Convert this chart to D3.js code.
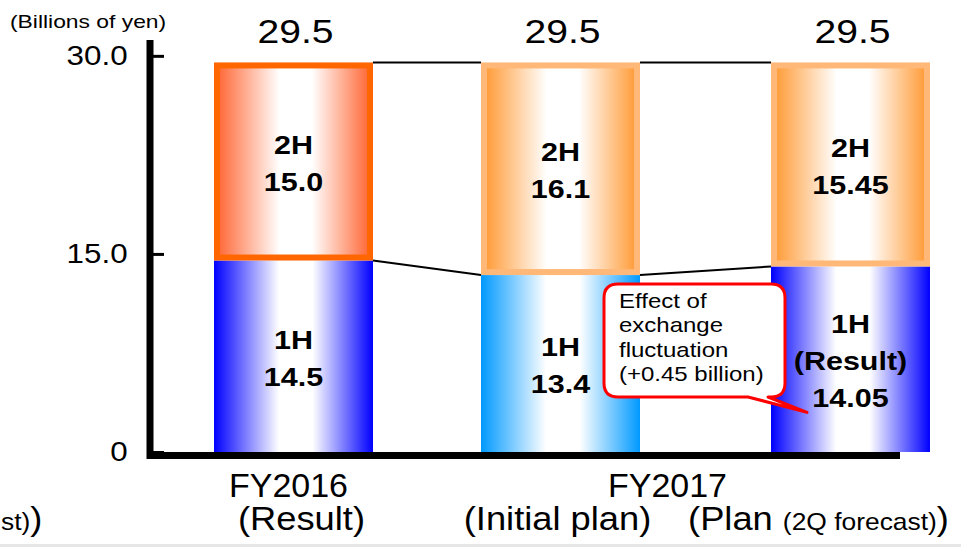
<!DOCTYPE html>
<html>
<head>
<meta charset="utf-8">
<script src="https://cdn.jsdelivr.net/npm/d3@7"></script>
<style>
  body { margin: 0; background: #fff; }
  svg { display: block; font-family: "Liberation Sans", Arial, sans-serif; }
</style>
</head>
<body>
<svg id="chart" width="961" height="547"></svg>
<script>
// data (billions of yen)
const categories = ['FY2016 (Result)', 'FY2017 (Initial plan)', 'FY2017 (Plan)'];
const firstHalf = [14.5, 13.4, 14.05];
const secondHalf = [15.0, 16.1, 15.45];
const firstHalfLabels = [['1H', '14.5'], ['1H', '13.4'], ['1H', '(Result)', '14.05']];
const secondHalfLabels = [['2H', '15.0'], ['2H', '16.1'], ['2H', '15.45']];
const yTicks = [0, 15, 30];
const yTickLabels = ['0', '15.0', '30.0'];
const calloutLines = ['Effect of', 'exchange', 'fluctuation', '(+0.45 billion)'];

const svg = d3.select('#chart');
const barWidth = 159;

const x = d3.scaleOrdinal().domain(categories).range([214, 481, 771]);
const y = d3.scaleLinear().domain([0, 31.2]).range([452, 40]);

const styles = [
  { low: '#0000ff', highFill: '#ff6633', highStroke: '#ff6600' },
  { low: '#0099ff', highFill: '#ff9933', highStroke: '#ffb877' },
  { low: '#0000ff', highFill: '#ff9933', highStroke: '#ffb877' }
];

// horizontal "cylinder" gradients
const defs = svg.append('defs');
function makeGradient(id, color) {
  const g = defs.append('linearGradient').attr('id', id)
    .attr('x1', '0%').attr('x2', '100%').attr('y1', '0%').attr('y2', '0%');
  [[0, color], [0.41, '#ffffff'], [0.62, '#ffffff'], [1, color]].forEach(s => {
    g.append('stop').attr('offset', s[0]).attr('stop-color', s[1]);
  });
}
styles.forEach((s, i) => {
  makeGradient('low' + i, s.low);
  makeGradient('high' + i, s.highFill);
});

function addText(g, tx, ty, str, size, opts = {}) {
  return g.append('text')
    .attr('transform', `translate(${tx},${ty}) scale(${opts.sx || 1},1)`)
    .attr('text-anchor', opts.anchor || 'middle')
    .style('font-size', size + 'px')
    .style('font-weight', opts.weight || 'normal')
    .style('fill', '#000')
    .text(str);
}

const rows = categories.map((c, i) => ({
  cat: c, i: i, h1: firstHalf[i], h2: secondHalf[i], total: firstHalf[i] + secondHalf[i]
}));

// connector lines between bars
const links = svg.append('g');
for (let i = 0; i < rows.length - 1; i++) {
  const a = rows[i], b = rows[i + 1];
  [[a.total, b.total], [a.h1, b.h1]].forEach(v => {
    links.append('line')
      .attr('x1', x(a.cat) + barWidth).attr('y1', y(v[0]))
      .attr('x2', x(b.cat)).attr('y2', y(v[1]))
      .attr('stroke', '#000').attr('stroke-width', 2);
  });
}

// 1H segments
svg.append('g').selectAll('rect').data(rows).join('rect')
  .attr('x', d => x(d.cat))
  .attr('y', d => y(d.h1))
  .attr('width', barWidth)
  .attr('height', d => y(0) - y(d.h1))
  .attr('fill', d => `url(#low${d.i})`);

// 2H segments (bordered)
svg.append('g').selectAll('rect').data(rows).join('rect')
  .attr('x', d => x(d.cat) + 3)
  .attr('y', d => y(d.total) + 3)
  .attr('width', barWidth - 6)
  .attr('height', d => y(d.h1) - y(d.total) - 6)
  .attr('fill', d => `url(#high${d.i})`)
  .attr('stroke', d => styles[d.i].highStroke)
  .attr('stroke-width', 6);

// segment labels
const labels = svg.append('g');
function segmentLabel(lines, cx, cy) {
  const n = lines.length;
  lines.forEach((t, k) => {
    addText(labels, cx, cy + 11 + (k - (n - 1) / 2) * 37, t, 25, { weight: 'bold', sx: 1.22 });
  });
}
rows.forEach(d => {
  const cx = x(d.cat) + barWidth / 2;
  segmentLabel(secondHalfLabels[d.i], cx, (y(d.total) + y(d.h1)) / 2);
  segmentLabel(firstHalfLabels[d.i], cx, (y(d.h1) + y(0)) / 2);
  addText(labels, cx + 2, 43, d3.format('.1f')(d.total), 34, { sx: 1.15 });
});

// y axis
const yAxis = svg.append('g')
  .attr('transform', 'translate(150,0)')
  .call(d3.axisLeft(y).tickValues(yTicks)
    .tickFormat((d, i) => yTickLabels[i])
    .tickSizeInner(-14).tickSizeOuter(0).tickPadding(20));
yAxis.select('.domain').attr('stroke', '#000').attr('stroke-width', 7)
  .attr('d', `M0,${y(31.2)}V${y(0) + 7}`);
yAxis.selectAll('.tick line').attr('stroke', '#000').attr('stroke-width', 3);
yAxis.selectAll('.tick text')
  .attr('fill', '#000')
  .style('font-size', '28px')
  .style('font-family', '"Liberation Sans", Arial, sans-serif')
  .attr('transform', 'scale(1.12,1)');

// x axis line
svg.append('line')
  .attr('x1', 147).attr('x2', 900)
  .attr('y1', y(0) + 3.5).attr('y2', y(0) + 3.5)
  .attr('stroke', '#000').attr('stroke-width', 7);

addText(svg, 10, 28, '(Billions of yen)', 18, { anchor: 'start', sx: 1.27 });

// category labels
const cx0 = x(categories[0]) + barWidth / 2;
const cx1 = x(categories[1]) + barWidth / 2;
const cx2 = x(categories[2]) + barWidth / 2;
addText(svg, cx0 - 5, 497, 'FY2016', 33, { sx: 1.03 });
addText(svg, cx0 + 8, 530, '(Result)', 33, { sx: 1.1 });
addText(svg, (cx1 + cx2) / 2 - 38, 497, 'FY2017', 33, { sx: 1.03 });
addText(svg, cx1 - 3, 530, '(Initial plan)', 33, { sx: 1.1 });
const plan = svg.append('text')
  .attr('transform', `translate(${cx2 - 32},530) scale(1.1,1)`)
  .attr('text-anchor', 'middle')
  .style('font-size', '33px');
plan.append('tspan').text('(Plan ');
plan.append('tspan').style('font-size', '24px').text('(2Q forecast)');
plan.append('tspan').text(')');

// leftover label fragment at the left edge
const leftover = svg.append('text')
  .attr('transform', 'translate(1,530) scale(1.1,1)')
  .style('font-size', '33px');
leftover.append('tspan').style('font-size', '24px').text('st)');
leftover.append('tspan').text(')');

// callout
const bx0 = 604, bx1 = 785, by0 = 284, by1 = 397, r = 14;
const tipX = x(categories[2]) + 36, tipY = y(3.0);
const callout = svg.append('g');
callout.append('path')
  .attr('d', `M${bx0 + r},${by0} H${bx1 - r} Q${bx1},${by0} ${bx1},${by0 + r} V${by1 - r}` +
    ` Q${bx1},${by1} ${bx1 - r},${by1} H768 L${tipX},${tipY} L748,${by1} H${bx0 + r}` +
    ` Q${bx0},${by1} ${bx0},${by1 - r} V${by0 + r} Q${bx0},${by0} ${bx0 + r},${by0} Z`)
  .attr('fill', '#fff').attr('stroke', '#ff0000').attr('stroke-width', 3)
  .attr('stroke-linejoin', 'round');
calloutLines.forEach((t, k) => {
  addText(callout, 619, 308 + k * 24.3, t, 20, { anchor: 'start', sx: 1.2 });
});

// grey strip along the bottom
svg.append('rect').attr('x', 0).attr('y', 544).attr('width', 961).attr('height', 3)
  .attr('fill', '#e6e6e6');
</script>
</body>
</html>
